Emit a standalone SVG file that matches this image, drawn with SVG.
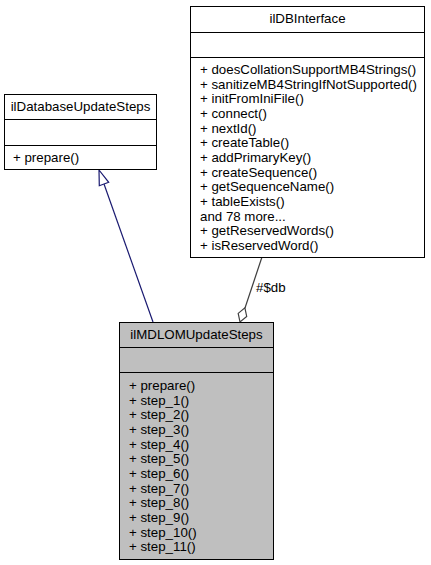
<svg xmlns="http://www.w3.org/2000/svg" width="431" height="565" viewBox="0 0 431 565">
<style>
.box{fill:#ffffff;stroke:#000000;stroke-width:1}
.hl{fill:#bfbfbf;stroke:#000000;stroke-width:1}
.sep{stroke:#000000;stroke-width:1}
text{font-family:"Liberation Sans",Arial,sans-serif;font-size:13.3px;fill:#000000}
.c{text-anchor:middle}
.inh{stroke:#191970;stroke-width:1.2;fill:none}
.agg{stroke:#404040;stroke-width:1.2;fill:none}
</style>
<rect width="431" height="565" fill="#ffffff"/>
<g id="connectors">
<path class="inh" d="M153,322 L104,184"/>
<polygon class="inh" points="99,170 108.7,182.3 99.3,185.7" style="fill:#ffffff"/>
<path class="agg" d="M262,257 L245,308"/>
<polygon class="agg" points="240,322 238.2,313.4 244.9,307.8 246.7,316.4" style="fill:#ffffff"/>
<text x="256" y="292">#$db</text>
</g>
<g id="ilDatabaseUpdateSteps">
<rect class="box" x="4.5" y="94.5" width="152" height="75"/>
<line class="sep" x1="4.5" y1="119.5" x2="156.5" y2="119.5"/>
<line class="sep" x1="4.5" y1="145.5" x2="156.5" y2="145.5"/>
<text class="c" x="80.5" y="111">ilDatabaseUpdateSteps</text>
<text x="13" y="162">+ prepare()</text>
</g>
<g id="ilDBInterface">
<rect class="box" x="190.5" y="6.5" width="234" height="251"/>
<line class="sep" x1="190.5" y1="32.5" x2="424.5" y2="32.5"/>
<line class="sep" x1="190.5" y1="57.5" x2="424.5" y2="57.5"/>
<text class="c" x="307.5" y="23">ilDBInterface</text>
<text x="200" y="74">+ doesCollationSupportMB4Strings()</text>
<text x="200" y="88.7">+ sanitizeMB4StringIfNotSupported()</text>
<text x="200" y="103.3">+ initFromIniFile()</text>
<text x="200" y="118">+ connect()</text>
<text x="200" y="132.7">+ nextId()</text>
<text x="200" y="147.3">+ createTable()</text>
<text x="200" y="162">+ addPrimaryKey()</text>
<text x="200" y="176.7">+ createSequence()</text>
<text x="200" y="191.3">+ getSequenceName()</text>
<text x="200" y="206">+ tableExists()</text>
<text x="200" y="220.7">and 78 more...</text>
<text x="200" y="235.3">+ getReservedWords()</text>
<text x="200" y="250">+ isReservedWord()</text>
</g>
<g id="ilMDLOMUpdateSteps">
<rect class="hl" x="119.5" y="322.5" width="154" height="237"/>
<line class="sep" x1="119.5" y1="347.5" x2="273.5" y2="347.5"/>
<line class="sep" x1="119.5" y1="372.5" x2="273.5" y2="372.5"/>
<text class="c" x="196.5" y="339">ilMDLOMUpdateSteps</text>
<text x="129" y="390">+ prepare()</text>
<text x="129" y="404.7">+ step_1()</text>
<text x="129" y="419.3">+ step_2()</text>
<text x="129" y="434">+ step_3()</text>
<text x="129" y="448.7">+ step_4()</text>
<text x="129" y="463.3">+ step_5()</text>
<text x="129" y="478">+ step_6()</text>
<text x="129" y="492.7">+ step_7()</text>
<text x="129" y="507.3">+ step_8()</text>
<text x="129" y="522">+ step_9()</text>
<text x="129" y="536.7">+ step_10()</text>
<text x="129" y="551.3">+ step_11()</text>
</g>
</svg>
